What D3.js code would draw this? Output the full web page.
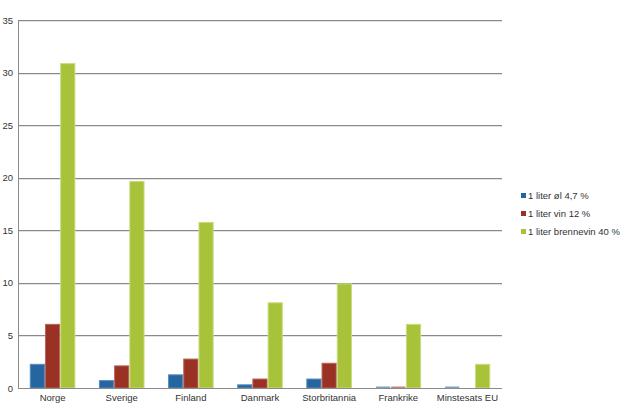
<!DOCTYPE html>
<html><head><meta charset="utf-8">
<script src="https://cdn.jsdelivr.net/npm/d3@7"></script>
<style>body{margin:0;background:#fff}svg{display:block}text{font-family:"Liberation Sans",Arial,sans-serif;fill:#333}</style>
</head><body><svg id="c" width="620" height="418"></svg>
<script>
const categories = ["Norge","Sverige","Finland","Danmark","Storbritannia","Frankrike","Minstesats EU"];
const seriesNames = ["1 liter øl 4,7 %","1 liter vin 12 %","1 liter brennevin 40 %"];
const ol = [2.3, 0.75, 1.3, 0.35, 0.9, 0.05, 0.05];
const vin = [6.1, 2.15, 2.8, 0.9, 2.4, 0.05, 0];
const brennevin = [30.9, 19.7, 15.8, 8.15, 9.95, 6.1, 2.3];
const yTicks = [0,5,10,15,20,25,30,35];
const colors = ["#2566a0","#993225","#a8c23a"];
const strokes = ["#5b8cbc","#b9645a","#c9dc7e"];

const series = [ol, vin, brennevin];
const svg = d3.select("#c");
const L = 18, R = 502, T = 20, B = 388;
const x = d3.scaleBand().domain(categories).range([L, R]).paddingInner(0.34).paddingOuter(0.17);
const xs = d3.scaleBand().domain(d3.range(3)).range([0, x.bandwidth()]);
const y = d3.scaleLinear().domain([0, 35]).range([B, T]);

// gridlines
const g = svg.append("g");
yTicks.filter(t => t > 0).forEach(t => {
  g.append("line").attr("x1", L).attr("x2", R).attr("y1", Math.round(y(t)) + 1.5).attr("y2", Math.round(y(t)) + 1.5).attr("stroke", "#e2e2e2");
  g.append("line").attr("x1", L).attr("x2", R).attr("y1", Math.round(y(t)) + 0.5).attr("y2", Math.round(y(t)) + 0.5).attr("stroke", "#8a8a8a");
});

// bars
series.forEach((vals, si) => {
  svg.append("g").selectAll("rect").data(vals.filter(d => true)).join("rect")
    .attr("x", (d, i) => x(categories[i]) + xs(si) + 0.5)
    .attr("width", xs.bandwidth() - 1)
    .attr("y", d => d > 0 ? Math.min(y(d) + 0.5, y(0) - 1.5) : y(0))
    .attr("height", d => d > 0 ? Math.max(1.5, y(0) - y(d) - 0.5) : 0)
    .attr("fill", colors[si])
    .attr("opacity", d => d > 0.2 ? 1 : 0.6)
    .attr("stroke", d => d > 0.2 ? strokes[si] : "none")
    .attr("stroke-width", 1);
});

// axes lines
svg.append("line").attr("x1", L + 0.5).attr("x2", L + 0.5).attr("y1", T).attr("y2", B).attr("stroke", "#8a8a8a");
svg.append("line").attr("x1", L).attr("x2", R).attr("y1", B + 0.5).attr("y2", B + 0.5).attr("stroke", "#8a8a8a");

// y labels
const yAxis = d3.axisLeft(y).tickValues(yTicks).tickSize(0).tickPadding(5);
const ya = svg.append("g").attr("transform", `translate(${L},0)`).call(yAxis);
ya.select(".domain").remove();
ya.selectAll("text").attr("font-size", 9.5).attr("font-family", "Liberation Sans, Arial, sans-serif").attr("fill", "#333");

// x labels
const xAxis = d3.axisBottom(x).tickSize(0).tickPadding(6);
const xa = svg.append("g").attr("transform", `translate(0,${B})`).call(xAxis);
xa.select(".domain").remove();
xa.selectAll("text").attr("font-size", 9.5).attr("font-family", "Liberation Sans, Arial, sans-serif").attr("fill", "#333");

// legend
const lg = svg.append("g");
const ly = [196, 214, 232];
seriesNames.forEach((n, i) => {
  lg.append("rect").attr("x", 521).attr("y", ly[i] - 3).attr("width", 5).attr("height", 5).attr("fill", colors[i]);
  lg.append("text").attr("x", 528).attr("y", ly[i]).attr("dy", "0.35em").attr("font-size", 9.5).text(n);
});
</script></body></html>
